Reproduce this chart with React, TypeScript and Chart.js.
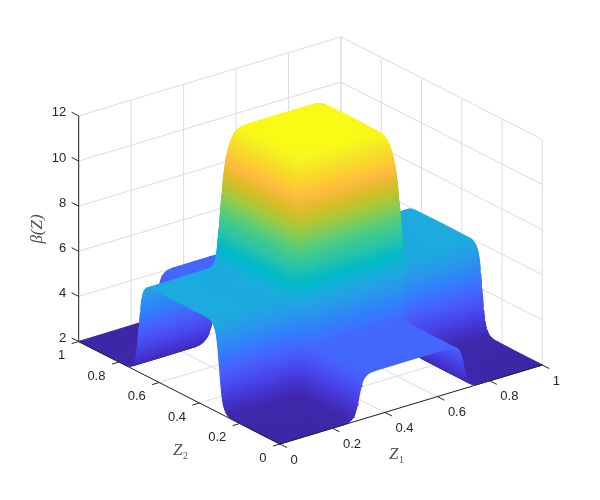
import React, { useEffect, useRef } from "react";
import { Chart, registerables } from "chart.js";

Chart.register(...registerables);

// Surface sample positions along Z1 and Z2 (denser on the steep walls)
const z1Positions = [0, 0.12, 0.24, 0.255, 0.264, 0.27, 0.275, 0.279, 0.282, 0.285, 0.288, 0.291, 0.294, 0.297, 0.3, 0.303, 0.306, 0.309, 0.312, 0.315, 0.318, 0.321, 0.325, 0.33, 0.336, 0.345, 0.36, 0.5, 0.64, 0.655, 0.664, 0.67, 0.675, 0.679, 0.682, 0.685, 0.688, 0.691, 0.694, 0.697, 0.7, 0.703, 0.706, 0.709, 0.712, 0.715, 0.718, 0.721, 0.725, 0.73, 0.736, 0.745, 0.76, 0.88, 1];
const z2Positions = z1Positions;

// Height factors read from the edges of the surface
const z1Levels = [1, 1, 1.004, 1.015, 1.03, 1.05, 1.075, 1.1, 1.125, 1.16, 1.209, 1.269, 1.339, 1.417, 1.5, 1.583, 1.661, 1.731, 1.791, 1.84, 1.875, 1.9, 1.925, 1.95, 1.97, 1.985, 1.996, 2, 1.996, 1.985, 1.97, 1.95, 1.925, 1.9, 1.875, 1.84, 1.791, 1.731, 1.661, 1.583, 1.5, 1.417, 1.339, 1.269, 1.209, 1.16, 1.125, 1.1, 1.075, 1.05, 1.03, 1.015, 1.004, 1, 1];
const z2Levels = [1, 1, 1.008, 1.03, 1.06, 1.1, 1.15, 1.2, 1.25, 1.32, 1.418, 1.538, 1.678, 1.834, 2, 2.166, 2.322, 2.462, 2.582, 2.68, 2.75, 2.8, 2.85, 2.9, 2.94, 2.97, 2.992, 3, 2.992, 2.97, 2.94, 2.9, 2.85, 2.8, 2.75, 2.68, 2.582, 2.462, 2.322, 2.166, 2, 1.834, 1.678, 1.538, 1.418, 1.32, 1.25, 1.2, 1.15, 1.1, 1.06, 1.03, 1.008, 1, 1];
const baseLevel = 2;

const z1Ticks = [0, 0.2, 0.4, 0.6, 0.8, 1];
const z2Ticks = [0, 0.2, 0.4, 0.6, 0.8, 1];
const zTicks = [2, 4, 6, 8, 10, 12];

const colorMin = 2;
const colorMax = 12;
const parula = [[0.2422,0.1504,0.6603],[0.2504,0.165,0.7076],[0.2578,0.1818,0.7511],[0.2647,0.1978,0.7952],[0.2706,0.2147,0.8364],[0.2751,0.2342,0.871],[0.2783,0.2559,0.8991],[0.2803,0.2782,0.9221],[0.2813,0.3006,0.9414],[0.281,0.3228,0.9579],[0.2795,0.3447,0.9717],[0.276,0.3667,0.9829],[0.2699,0.3892,0.9906],[0.2602,0.4123,0.9952],[0.244,0.4358,0.9988],[0.2206,0.4603,0.9973],[0.1963,0.4847,0.9892],[0.1834,0.5074,0.9798],[0.1786,0.5289,0.9682],[0.1764,0.5499,0.952],[0.1687,0.5703,0.9359],[0.154,0.5902,0.9218],[0.146,0.6091,0.9079],[0.138,0.6276,0.8973],[0.1248,0.6459,0.8883],[0.1113,0.6635,0.8763],[0.0952,0.6798,0.8598],[0.0689,0.6948,0.8394],[0.0297,0.7082,0.8163],[0.0036,0.7203,0.7917],[0.0067,0.7312,0.766],[0.0433,0.7411,0.7394],[0.0964,0.75,0.712],[0.1408,0.7584,0.6842],[0.1717,0.767,0.6554],[0.1938,0.7758,0.6251],[0.2161,0.7843,0.5923],[0.247,0.7918,0.5567],[0.2906,0.7973,0.5188],[0.3406,0.8008,0.4789],[0.3909,0.8029,0.4354],[0.4456,0.8024,0.3909],[0.5044,0.7993,0.348],[0.5616,0.7942,0.3045],[0.6174,0.7876,0.2612],[0.672,0.7793,0.2227],[0.7242,0.7698,0.191],[0.7738,0.7598,0.1646],[0.8203,0.7498,0.1535],[0.8634,0.7406,0.1596],[0.9035,0.733,0.1774],[0.9393,0.7288,0.21],[0.9728,0.7298,0.2394],[0.9956,0.7434,0.2371],[0.997,0.7659,0.2199],[0.9952,0.7893,0.2028],[0.9892,0.8136,0.1885],[0.9786,0.8386,0.1766],[0.9676,0.8639,0.1643],[0.961,0.889,0.1537],[0.9597,0.9135,0.1423],[0.9628,0.9373,0.1265],[0.9691,0.9606,0.1064],[0.9769,0.9839,0.0805]];

// Orthographic view of the 3-D box
const view = { ox: 280, oy: 444, ax: 262.3, ay: -79, bx: -201.3, by: -102.5, zy: -22.56 };
const project = (a: number, b: number, z: number) => ({
  x: view.ox + a * view.ax + b * view.bx,
  y: view.oy + a * view.ay + b * view.by + (z - 2) * view.zy,
});

const colorFor = (z: number) => {
  const t = Math.min(1, Math.max(0, (z - colorMin) / (colorMax - colorMin))) * (parula.length - 1);
  const i = Math.min(parula.length - 2, Math.floor(t));
  const f = t - i;
  const c = parula[i].map((v, k) => Math.round(255 * (v + (parula[i + 1][k] - v) * f)));
  return `rgb(${c[0]},${c[1]},${c[2]})`;
};

const surfaceZ = (i: number, j: number) => baseLevel * z1Levels[i] * z2Levels[j];

const line = (pts: { x: number; y: number }[], color: string, width: number, order: number) => ({
  data: pts,
  borderColor: color,
  backgroundColor: color,
  borderWidth: width,
  pointRadius: 0,
  fill: false as any,
  tension: 0,
  order,
});

// Paint a cell with a linear gradient that follows its colour change on screen
function cellPaint(g2d: CanvasRenderingContext2D, P: { x: number; y: number }[], Z: number[]) {
  const [p00, p10, p11, p01] = P;
  const [z00, z10, z11, z01] = Z;
  const zLo = Math.min(...Z);
  const zHi = Math.max(...Z);
  const zMean = (z00 + z10 + z11 + z01) / 4;
  if (zHi - zLo < 0.002) return colorFor(zMean);
  const e1x = (p10.x + p11.x - p00.x - p01.x) / 2;
  const e1y = (p10.y + p11.y - p00.y - p01.y) / 2;
  const e2x = (p01.x + p11.x - p00.x - p10.x) / 2;
  const e2y = (p01.y + p11.y - p00.y - p10.y) / 2;
  const d1 = (z10 + z11 - z00 - z01) / 2;
  const d2 = (z01 + z11 - z00 - z10) / 2;
  const det = e1x * e2y - e1y * e2x;
  if (Math.abs(det) < 1e-3) return colorFor(zMean);
  const gx = (d1 * e2y - d2 * e1y) / det;
  const gy = (-d1 * e2x + d2 * e1x) / det;
  const n2 = gx * gx + gy * gy;
  if (n2 < 1e-9) return colorFor(zMean);
  const cx = (p00.x + p10.x + p11.x + p01.x) / 4;
  const cy = (p00.y + p10.y + p11.y + p01.y) / 4;
  const lo = (zLo - zMean) / n2;
  const hi = (zHi - zMean) / n2;
  const grad = g2d.createLinearGradient(cx + gx * lo, cy + gy * lo, cx + gx * hi, cy + gy * hi);
  grad.addColorStop(0, colorFor(zLo));
  grad.addColorStop(0.5, colorFor((zLo + zHi) / 2));
  grad.addColorStop(1, colorFor(zHi));
  return grad;
}

function buildDatasets(g2d: CanvasRenderingContext2D) {
  const sets: any[] = [];
  const axisC = "#262626";
  const gridC = "#dcdcdc";
  // axes and ticks
  sets.push(line([project(0, 0, 2), project(1, 0, 2)], axisC, 1, 0));
  sets.push(line([project(0, 0, 2), project(0, 1, 2)], axisC, 1, 0));
  sets.push(line([project(0, 1, 2), project(0, 1, 12)], axisC, 1, 0));
  z1Ticks.forEach((a) => sets.push(line([project(a, 0, 2), project(a, -0.035, 2)], axisC, 1, 0)));
  z2Ticks.forEach((b) => sets.push(line([project(0, b, 2), project(-0.027, b, 2)], axisC, 1, 0)));
  zTicks.forEach((z) => sets.push(line([project(0, 1, z), project(0, 1.035, z)], axisC, 1, 0)));
  // surface: first dataset is drawn last, so the front cells come first
  for (let i = 0; i < z1Positions.length - 1; i++) {
    for (let j = 0; j < z2Positions.length - 1; j++) {
      const a0 = z1Positions[i], a1 = z1Positions[i + 1];
      const b0 = z2Positions[j], b1 = z2Positions[j + 1];
      const z00 = surfaceZ(i, j), z10 = surfaceZ(i + 1, j), z01 = surfaceZ(i, j + 1), z11 = surfaceZ(i + 1, j + 1);
      const pts = [project(a0, b0, z00), project(a1, b0, z10), project(a1, b1, z11), project(a0, b1, z01)];
      const paint = cellPaint(g2d, pts, [z00, z10, z11, z01]);
      sets.push({
        data: [...pts, pts[0]],
        borderColor: paint,
        backgroundColor: paint,
        borderWidth: 1.2,
        borderJoinStyle: "round",
        pointRadius: 0,
        fill: "shape",
        tension: 0,
        order: 1,
      });
    }
  }
  // grid on floor and the two back walls
  z1Ticks.forEach((a) => {
    sets.push(line([project(a, 0, 2), project(a, 1, 2)], gridC, 1, 2));
    sets.push(line([project(a, 1, 2), project(a, 1, 12)], gridC, 1, 2));
  });
  z2Ticks.forEach((b) => {
    sets.push(line([project(0, b, 2), project(1, b, 2)], gridC, 1, 2));
    sets.push(line([project(1, b, 2), project(1, b, 12)], gridC, 1, 2));
  });
  zTicks.forEach((z) => {
    sets.push(line([project(0, 1, z), project(1, 1, z)], gridC, 1, 2));
    sets.push(line([project(1, 1, z), project(1, 0, z)], gridC, 1, 2));
  });
  return sets;
}

const tickText = (v: number) => String(v);

const labelsPlugin = {
  id: "axisText",
  afterDraw(chart: any) {
    const { ctx, scales } = chart;
    const px = (p: { x: number; y: number }) => ({ x: scales.x.getPixelForValue(p.x), y: scales.y.getPixelForValue(p.y) });
    ctx.save();
    ctx.fillStyle = "#262626";
    ctx.font = "13px 'Liberation Sans'";
    ctx.textBaseline = "middle";
    ctx.textAlign = "left";
    z1Ticks.forEach((a) => {
      const p = px(project(a, 0, 2));
      ctx.fillText(tickText(a), p.x + 10.5, p.y + 16);
    });
    ctx.textAlign = "right";
    z2Ticks.forEach((b) => {
      const p = px(project(0, b, 2));
      ctx.fillText(tickText(b), p.x - 13.5, p.y + 14);
    });
    zTicks.forEach((z) => {
      const p = px(project(0, 1, z));
      ctx.fillText(tickText(z), p.x - 12.5, p.y - 3);
    });
    // axis titles
    ctx.fillStyle = "#505050";
    ctx.textAlign = "left";
    const title = (x: number, y: number, sub: string) => {
      ctx.font = "italic 17px 'Liberation Serif'";
      ctx.fillText("Z", x, y);
      ctx.font = "10px 'Liberation Serif'";
      ctx.fillText(sub, x + 10, y + 5);
    };
    title(389, 455, "1");
    title(173, 451, "2");
    ctx.translate(38, 229);
    ctx.rotate(-Math.PI / 2);
    ctx.textAlign = "center";
    ctx.font = "italic 17px 'Liberation Serif'";
    ctx.fillText("\u03B2(Z)", 0, 0);
    ctx.restore();
  },
};

export default function App() {
  const ref = useRef<HTMLCanvasElement>(null);
  useEffect(() => {
    const canvas = ref.current!;
    const chart = new Chart(canvas, {
      type: "line",
      data: { datasets: buildDatasets(canvas.getContext("2d")!) },
      options: {
        responsive: false,
        animation: false,
        devicePixelRatio: 1,
        events: [],
        parsing: false,
        normalized: false,
        layout: { padding: 0 },
        clip: false,
        scales: {
          x: { type: "linear", min: 0, max: 600, display: false },
          y: { type: "linear", min: 0, max: 500, reverse: true, display: false },
        },
        plugins: { legend: { display: false }, tooltip: { enabled: false }, title: { display: false } },
      } as any,
      plugins: [labelsPlugin as any],
    });
    return () => chart.destroy();
  }, []);
  return <canvas ref={ref} width={600} height={500} style={{ position: "fixed", left: 0, top: 0, display: "block" }} />;
}
